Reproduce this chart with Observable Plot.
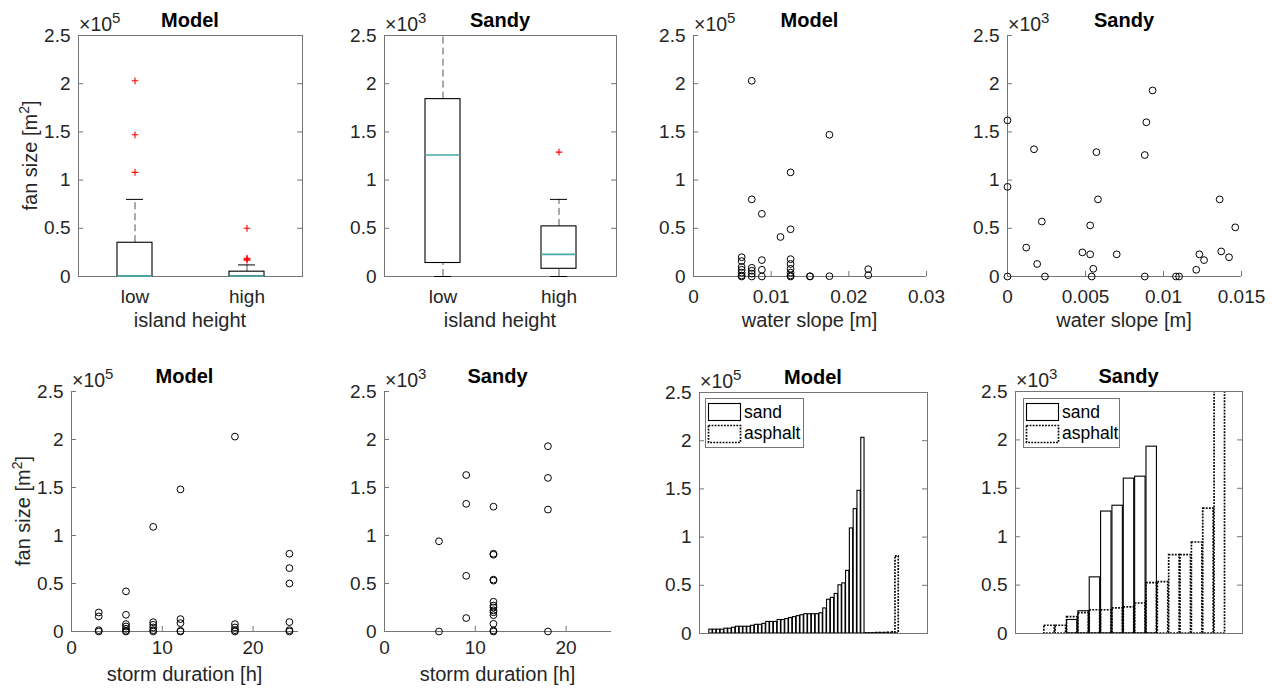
<!DOCTYPE html>
<html>
<head>
<meta charset="utf-8">
<script src="https://cdn.jsdelivr.net/npm/d3@7"></script>
<script src="https://cdn.jsdelivr.net/npm/@observablehq/plot@0.6"></script>
<style>
  html, body { margin: 0; padding: 0; background: #fff; }
  #fig { position: relative; width: 1273px; height: 692px; overflow: hidden;
         font-family: "Liberation Sans", Arial, Helvetica, sans-serif; color: #262626; }
  #overlay { position: absolute; left: 0; top: 0; pointer-events: none; }
</style>
</head>
<body>
<div id="fig"></div>
<script>
// ---------------- DATA (Model fan size in ×10^5 m², Sandy fan size in ×10^3 m²) ----------------
const yTicks = [0, 0.5, 1, 1.5, 2, 2.5];

// Panels 1–2: box plots by island height
const heightGroups = ["low", "high"];
const modelBoxQ1 = [0, 0];
const modelBoxMedian = [0.004, 0.003];
const modelBoxQ3 = [0.35, 0.05];
const modelWhiskerLow = [0, 0];
const modelWhiskerHigh = [0.80, 0.12];
const modelOutlierGroup = ["low", "low", "low", "high", "high", "high", "high"];
const modelOutlierValue = [1.08, 1.47, 2.03, 0.17, 0.18, 0.19, 0.50];

const sandyBoxQ1 = [0.14, 0.08];
const sandyBoxMedian = [1.26, 0.23];
const sandyBoxQ3 = [1.84, 0.52];
const sandyWhiskerLow = [0, 0];
const sandyWhiskerHigh = [2.90, 0.80];
const sandyOutlierGroup = ["high"];
const sandyOutlierValue = [1.29];

// Panel 3: Model fan size vs water slope
const modelSlope = [0.0062, 0.0062, 0.0062, 0.0062, 0.0062, 0.0062, 0.0062,
  0.0075, 0.0075, 0.0075, 0.0075, 0.0075, 0.0075,
  0.0088, 0.0088, 0.0088, 0.0088,
  0.0112,
  0.0125, 0.0125, 0.0125, 0.0125, 0.0125, 0.0125, 0.0125, 0.0125,
  0.015, 0.015, 0.0175, 0.0175, 0.0225, 0.0225];
const modelSlopeFan = [0.20, 0.16, 0.10, 0.07, 0.04, 0.01, 0.0,
  2.03, 0.80, 0.09, 0.06, 0.03, 0.0,
  0.65, 0.17, 0.07, 0.0,
  0.41,
  1.08, 0.49, 0.18, 0.13, 0.08, 0.04, 0.01, 0.0,
  0.0, 0.003, 1.47, 0.003, 0.076, 0.014];

// Panel 4: Sandy fan size vs water slope
const sandySlope = [0, 0, 0, 0.0012, 0.0017, 0.0019, 0.0022, 0.0024, 0.0048, 0.0053, 0.0053,
  0.0054, 0.0055, 0.0057, 0.0058, 0.0070, 0.0088, 0.0088, 0.0089, 0.0093, 0.0108, 0.0110,
  0.0121, 0.0123, 0.0126, 0.0136, 0.0137, 0.0142, 0.0146];
const sandySlopeFan = [1.62, 0.93, 0.0, 0.30, 1.32, 0.13, 0.57, 0.0, 0.25, 0.53, 0.23,
  0.0, 0.08, 1.29, 0.80, 0.23, 0.0, 1.26, 1.60, 1.93, 0.0, 0.0,
  0.07, 0.23, 0.17, 0.80, 0.26, 0.20, 0.51];

// Panel 5: Model fan size vs storm duration
const modelDuration = [3, 3, 3, 3, 6, 6, 6, 6, 6, 6, 6, 9, 9, 9, 9, 9, 9,
  12, 12, 12, 12, 12, 18, 18, 18, 18, 18, 24, 24, 24, 24, 24, 24];
const modelDurationFan = [0.198, 0.157, 0.014, 0.0, 0.418, 0.174, 0.077, 0.052, 0.028, 0.007, 0.0,
  1.09, 0.097, 0.07, 0.042, 0.014, 0.0,
  1.48, 0.129, 0.087, 0.007, 0.0,
  2.03, 0.077, 0.042, 0.014, 0.0,
  0.81, 0.66, 0.50, 0.098, 0.014, 0.0];

// Panel 6: Sandy fan size vs storm duration
const sandyDuration = [6, 6, 9, 9, 9, 9, 12, 12, 12, 12, 12, 12, 12, 12, 12, 12, 12, 12, 12, 12, 18, 18, 18, 18];
const sandyDurationFan = [0.94, 0.0, 1.63, 1.33, 0.58, 0.14,
  1.30, 0.81, 0.80, 0.54, 0.53, 0.31, 0.27, 0.25, 0.22, 0.20, 0.17, 0.08, 0.01, 0.0,
  1.93, 1.60, 1.27, 0.0];

// Panel 7: Model sorted fan sizes, sand and asphalt
const modelSandFan = [0, 0, 0.04, 0.04, 0.04, 0.04, 0.05, 0.05, 0.06, 0.07, 0.07, 0.07, 0.07, 0.08,
  0.09, 0.09, 0.10, 0.12, 0.12, 0.12, 0.14, 0.14, 0.15, 0.16, 0.17, 0.18, 0.19, 0.20, 0.20, 0.20,
  0.20, 0.21, 0.26, 0.35, 0.37, 0.41, 0.50, 0.52, 0.65, 1.09, 1.29, 1.48, 2.03];
const modelSandPos = d3.range(1, modelSandFan.length + 1);
const modelAsphaltFan = [0.002, 0.002, 0.002, 0.003, 0.003, 0.004, 0.006, 0.012, 0.80];
const modelAsphaltPos = d3.range(modelSandFan.length + 1, modelSandFan.length + modelAsphaltFan.length + 1);

// Panel 8: Sandy sorted fan sizes, sand and asphalt
const sandySandFan = [0, 0, 0, 0, 0.14, 0.23, 0.58, 1.26, 1.32, 1.60, 1.62, 1.93];
const sandySandPos = d3.range(1, sandySandFan.length + 1);
const sandyAsphaltFan = [0, 0, 0.08, 0.08, 0.17, 0.21, 0.24, 0.24, 0.26, 0.27, 0.31, 0.52, 0.53,
  0.81, 0.81, 0.94, 1.29, 3.0];
const sandyAsphaltPos = d3.range(1, sandyAsphaltFan.length + 1);

// ---------------- STYLE / LAYOUT ----------------
const FONT = '"Liberation Sans", Arial, Helvetica, sans-serif';
const AXIS = "#767676";
const TEXT = "#262626";
const TEAL = "#47a9a9";
const DOTS = "1.8,1.3";
const fig = document.getElementById("fig");

function makePanel({L, R, T, B}, x, marksFn, clampY = true) {
  const mL = 60, mR = 14, mT = 14, mB = 40;
  const W = R - L, H = B - T;
  const plot = Plot.plot({
    width: W + mL + mR, height: H + mT + mB,
    marginLeft: mL, marginRight: mR, marginTop: mT, marginBottom: mB,
    x, y: {domain: [0, 2.5], clamp: clampY},
    style: {fontFamily: FONT, fontSize: "19px", color: TEXT, background: "transparent", overflow: "visible"},
    marks: marksFn(W, H)
  });
  plot.style.position = "absolute";
  plot.style.left = (L - mL) + "px";
  plot.style.top = (T - mT) + "px";
  fig.appendChild(plot);
}

function yAxisMarks(W, boxed) {
  const m = [
    Plot.axisY({ticks: yTicks, tickSize: 0, tickPadding: 8, tickFormat: d => String(d), label: null, fill: TEXT}),
    Plot.tickY(yTicks, {y: d => d, insetRight: W - 5, stroke: AXIS})
  ];
  if (boxed) m.push(Plot.tickY(yTicks, {y: d => d, insetLeft: W - 5, stroke: AXIS}));
  return m;
}

function boxMarks(W, H, s) {
  const g = heightGroups;
  return [
    Plot.frame({stroke: AXIS}),
    ...yAxisMarks(W, true),
    Plot.axisX({tickSize: 0, tickPadding: 13, label: null, fill: TEXT}),
    Plot.ruleX(g, {x: d => d, y1: (d, i) => s.q3[i], y2: (d, i) => s.hi[i], stroke: "#555", strokeDasharray: "7,4"}),
    Plot.ruleX(g, {x: d => d, y1: (d, i) => s.lo[i], y2: (d, i) => s.q1[i], stroke: "#555", strokeDasharray: "7,4"}),
    Plot.tickY(g, {x: d => d, y: (d, i) => s.hi[i], filter: (d, i) => s.hi[i] <= 2.5, insetLeft: 9, insetRight: 9, stroke: "#000"}),
    Plot.tickY(g, {x: d => d, y: (d, i) => s.lo[i], insetLeft: 9, insetRight: 9, stroke: "#000"}),
    Plot.barY(g, {x: d => d, y1: (d, i) => s.q1[i], y2: (d, i) => s.q3[i], fill: "none", stroke: "#000", strokeWidth: 1.1}),
    Plot.tickY(g, {x: d => d, y: (d, i) => s.med[i], stroke: TEAL, strokeWidth: 1.6}),
    Plot.dot(s.outV, {x: s.outG, y: s.outV, symbol: "plus", r: 2.3, stroke: "#ff0000", strokeWidth: 1.1})
  ];
}

function scatterMarks(W, H, xTicks, xs, ys, pad) {
  return [
    Plot.ruleY([0], {stroke: AXIS}),
    Plot.ruleX([0], {stroke: AXIS}),
    ...yAxisMarks(W, false),
    Plot.tickX(xTicks, {x: d => d, insetTop: H - 5, stroke: AXIS}),
    Plot.axisX({ticks: xTicks, tickSize: 0, tickPadding: pad, tickFormat: d => String(d), label: null, fill: TEXT}),
    Plot.dot(ys, {x: xs, y: ys, r: 3.4, stroke: "#000", fill: "none", strokeWidth: 1})
  ];
}

function barMarks(W, H, sandPos, sandFan, aspPos, aspFan, half) {
  return [
    Plot.rect(sandFan, {x1: (d, i) => sandPos[i] - half, x2: (d, i) => sandPos[i] + half, y1: 0, y2: d => d,
      fill: "none", stroke: "#000", strokeWidth: 1.1, clip: true}),
    Plot.rect(aspFan, {x1: (d, i) => aspPos[i] - half, x2: (d, i) => aspPos[i] + half, y1: 0, y2: d => d,
      fill: "none", stroke: "#000", strokeWidth: 1.7, strokeDasharray: DOTS, clip: true}),
    Plot.frame({stroke: AXIS}),
    ...yAxisMarks(W, true)
  ];
}

const panels = [
  {L: 78,   R: 302,  T: 35,  B: 276, title: "Model", exp: "5", xlabel: "island height", ylabel: true},
  {L: 384,  R: 616,  T: 35,  B: 276, title: "Sandy", exp: "3", xlabel: "island height"},
  {L: 693,  R: 926,  T: 35,  B: 276, title: "Model", exp: "5", xlabel: "water slope [m]"},
  {L: 1007, R: 1241, T: 35,  B: 276, title: "Sandy", exp: "3", xlabel: "water slope [m]"},
  {L: 71,   R: 298,  T: 391, B: 631, title: "Model", exp: "5", xlabel: "storm duration [h]", ylabel: true},
  {L: 384,  R: 611,  T: 391, B: 631, title: "Sandy", exp: "3", xlabel: "storm duration [h]"},
  {L: 699,  R: 927,  T: 392, B: 633, title: "Model", exp: "5", legend: true},
  {L: 1015, R: 1242, T: 391, B: 633, title: "Sandy", exp: "3", legend: true}
];

// Panel 1
makePanel(panels[0], {type: "band", domain: heightGroups, paddingInner: 0.69, paddingOuter: 0.345},
  (W, H) => boxMarks(W, H, {q1: modelBoxQ1, med: modelBoxMedian, q3: modelBoxQ3, lo: modelWhiskerLow,
    hi: modelWhiskerHigh, outG: modelOutlierGroup, outV: modelOutlierValue}));
// Panel 2
makePanel(panels[1], {type: "band", domain: heightGroups, paddingInner: 0.70, paddingOuter: 0.35},
  (W, H) => boxMarks(W, H, {q1: sandyBoxQ1, med: sandyBoxMedian, q3: sandyBoxQ3, lo: sandyWhiskerLow,
    hi: sandyWhiskerHigh, outG: sandyOutlierGroup, outV: sandyOutlierValue}));
// Panel 3
makePanel(panels[2], {domain: [0, 0.03]},
  (W, H) => scatterMarks(W, H, [0, 0.01, 0.02, 0.03], modelSlope, modelSlopeFan, 13));
// Panel 4
makePanel(panels[3], {domain: [0, 0.015]},
  (W, H) => scatterMarks(W, H, [0, 0.005, 0.01, 0.015], sandySlope, sandySlopeFan, 13));
// Panel 5
makePanel(panels[4], {domain: [0, 25]},
  (W, H) => scatterMarks(W, H, [0, 10, 20], modelDuration, modelDurationFan, 9));
// Panel 6
makePanel(panels[5], {domain: [0, 25]},
  (W, H) => scatterMarks(W, H, [0, 10, 20], sandyDuration, sandyDurationFan, 9));
// Panel 7
makePanel(panels[6], {domain: [0, 60], axis: null},
  (W, H) => barMarks(W, H, modelSandPos, modelSandFan, modelAsphaltPos, modelAsphaltFan, 0.43), false);
// Panel 8
makePanel(panels[7], {domain: [0, 20], axis: null},
  (W, H) => barMarks(W, H, sandySandPos, sandySandFan, sandyAsphaltPos, sandyAsphaltFan, 0.46), false);

// ---------------- TEXT OVERLAY (titles, exponents, axis labels, legends) ----------------
let s = `<svg id="overlay" width="1273" height="692" xmlns="http://www.w3.org/2000/svg" font-family='${FONT}'>`;
for (const p of panels) {
  const cx = (p.L + p.R) / 2;
  s += `<text x="${cx}" y="${p.T - 8}" text-anchor="middle" font-size="20" font-weight="bold" fill="#000">${p.title}</text>`;
  s += `<text x="${p.L + 1}" y="${p.T - 4}" font-size="19.5" fill="${TEXT}">×10<tspan dy="-8" font-size="15">${p.exp}</tspan></text>`;
  if (p.xlabel) {
    s += `<text x="${cx}" y="${p.B + (p.T < 100 ? 51 : 50)}" text-anchor="middle" font-size="20" fill="${TEXT}">${p.xlabel}</text>`;
  }
  if (p.ylabel) {
    const cy = (p.T + p.B) / 2;
    s += `<text transform="translate(${p.L - 41},${cy}) rotate(-90)" text-anchor="middle" font-size="20" fill="${TEXT}">fan size [m<tspan dy="-8" font-size="14">2</tspan><tspan dy="8">]</tspan></text>`;
  }
  if (p.legend) {
    const lx = p.L + (p.title === "Model" ? 6 : 8), ly = 398;
    const lw = p.title === "Model" ? 98 : 96;
    s += `<rect x="${lx + 0.5}" y="${ly + 0.5}" width="${lw}" height="49" fill="#fff" stroke="${AXIS}" stroke-width="1"/>`;
    s += `<rect x="${lx + 3.5}" y="${ly + 5.5}" width="32" height="17" fill="none" stroke="#000" stroke-width="1.1"/>`;
    s += `<rect x="${lx + 3.5}" y="${ly + 27.5}" width="32" height="17" fill="none" stroke="#000" stroke-width="1.7" stroke-dasharray="${DOTS}"/>`;
    s += `<text x="${lx + 39}" y="${ly + 20}" font-size="17.5" fill="#000">sand</text>`;
    s += `<text x="${lx + 39}" y="${ly + 41}" font-size="17.5" fill="#000">asphalt</text>`;
  }
}
s += `</svg>`;
fig.insertAdjacentHTML("beforeend", s);
</script>
</body>
</html>
